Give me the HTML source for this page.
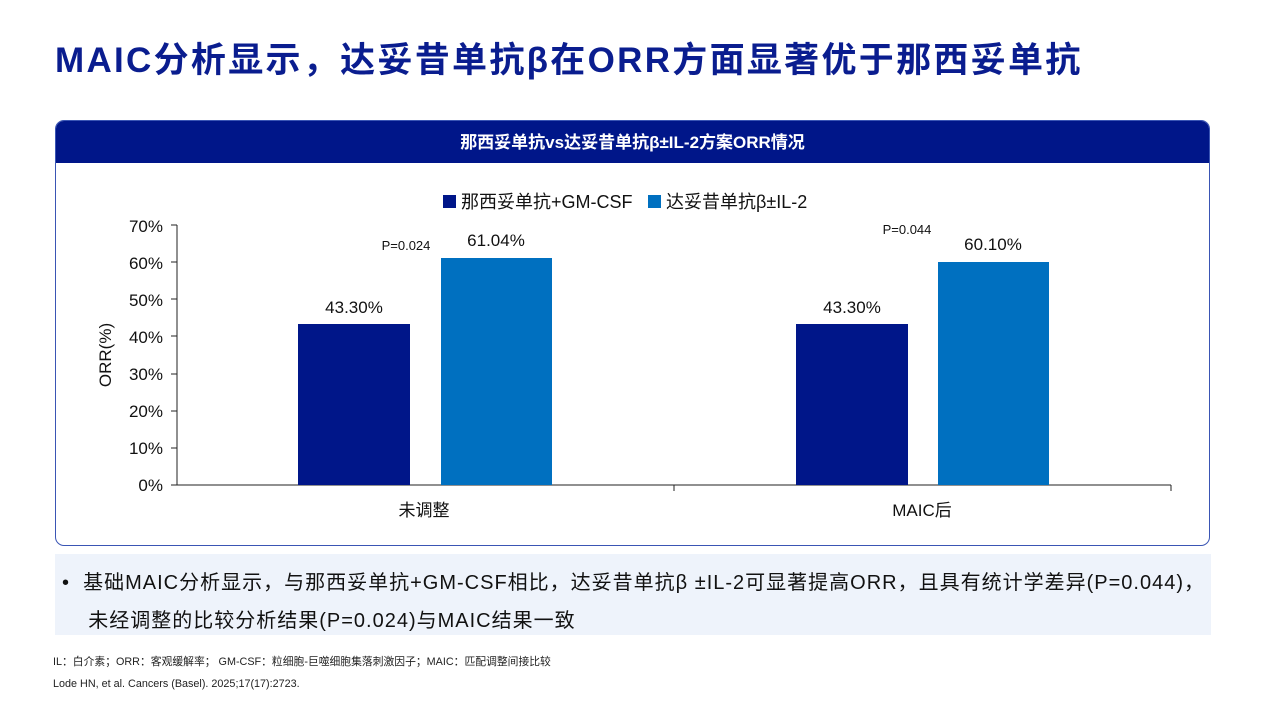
<!DOCTYPE html>
<html><head><meta charset="utf-8"><style>
body{margin:0;width:1267px;height:708px;background:#fff;position:relative;overflow:hidden;font-family:"Liberation Sans","Noto Sans CJK SC",sans-serif;}
.a{position:absolute;white-space:nowrap;}
</style></head><body>
<div class="a" style="left:55px;top:37px;font-size:35px;font-weight:bold;color:#0a1d8f;line-height:48px;letter-spacing:2.3px;">MAIC分析显示，达妥昔单抗β在ORR方面显著优于那西妥单抗</div>
<div class="a" style="left:55px;top:120px;width:1153px;height:424px;border:1.5px solid #3a55b4;border-radius:9px;overflow:hidden;">
<div style="height:42px;background:#001689;color:#fff;font-weight:bold;font-size:17px;text-align:center;line-height:44px;">那西妥单抗vs达妥昔单抗β±IL-2方案ORR情况</div>
</div>
<svg class="a" style="left:0;top:0" width="1267" height="708">
<g font-size="17" fill="#111" font-family="Liberation Sans, Noto Sans CJK SC, sans-serif">
<rect x="443" y="195" width="13" height="13" fill="#001689"/>
<text x="461" y="208" font-size="18">那西妥单抗+GM-CSF</text>
<rect x="648" y="195" width="13" height="13" fill="#0070c0"/>
<text x="666" y="208" font-size="18">达妥昔单抗β±IL-2</text>
<g text-anchor="end">
<text x="163" y="232">70%</text><text x="163" y="269">60%</text><text x="163" y="306">50%</text><text x="163" y="343">40%</text><text x="163" y="380">30%</text><text x="163" y="417">20%</text><text x="163" y="454">10%</text><text x="163" y="491">0%</text>
</g>
<text transform="translate(111,355) rotate(-90)" text-anchor="middle">ORR(%)</text>
<path d="M177 225V485M171 225H177M171 262H177M171 299H177M171 336H177M171 374H177M171 411H177M171 448H177M171 485H1171M674 485V491M1171 485V491" stroke="#222" stroke-width="1" fill="none"/>
<rect x="298" y="324" width="112" height="161" fill="#001689"/>
<rect x="441" y="258" width="111" height="227" fill="#0070c0"/>
<rect x="796" y="324" width="112" height="161" fill="#001689"/>
<rect x="938" y="262" width="111" height="223" fill="#0070c0"/>
<text x="354" y="313" text-anchor="middle">43.30%</text>
<text x="496" y="246" text-anchor="middle">61.04%</text>
<text x="852" y="313" text-anchor="middle">43.30%</text>
<text x="993" y="250" text-anchor="middle">60.10%</text>
<text x="406" y="250" text-anchor="middle" font-size="13">P=0.024</text>
<text x="907" y="234" text-anchor="middle" font-size="13">P=0.044</text>
<text x="424" y="516" text-anchor="middle">未调整</text>
<text x="922" y="516" text-anchor="middle">MAIC后</text>
</g>
</svg>
<div class="a" style="left:55px;top:554px;width:1156px;height:81px;background:#eef3fb;"></div>
<div class="a" style="left:62px;top:564px;font-size:20px;line-height:38px;color:#111;letter-spacing:1px;">•&nbsp;&nbsp;基础MAIC分析显示，与那西妥单抗+GM-CSF相比，达妥昔单抗β ±IL-2可显著提高ORR，且具有统计学差异(P=0.044)，<br>&nbsp;&nbsp;&nbsp;&nbsp;未经调整的比较分析结果(P=0.024)与MAIC结果一致</div>
<div class="a" style="left:53px;top:653px;font-size:10.8px;color:#222;">IL：白介素；ORR：客观缓解率； GM-CSF：粒细胞-巨噬细胞集落刺激因子；MAIC：匹配调整间接比较</div>
<div class="a" style="left:53px;top:678px;font-size:10.8px;color:#222;">Lode HN, et al. Cancers (Basel). 2025;17(17):2723.</div>
</body></html>
